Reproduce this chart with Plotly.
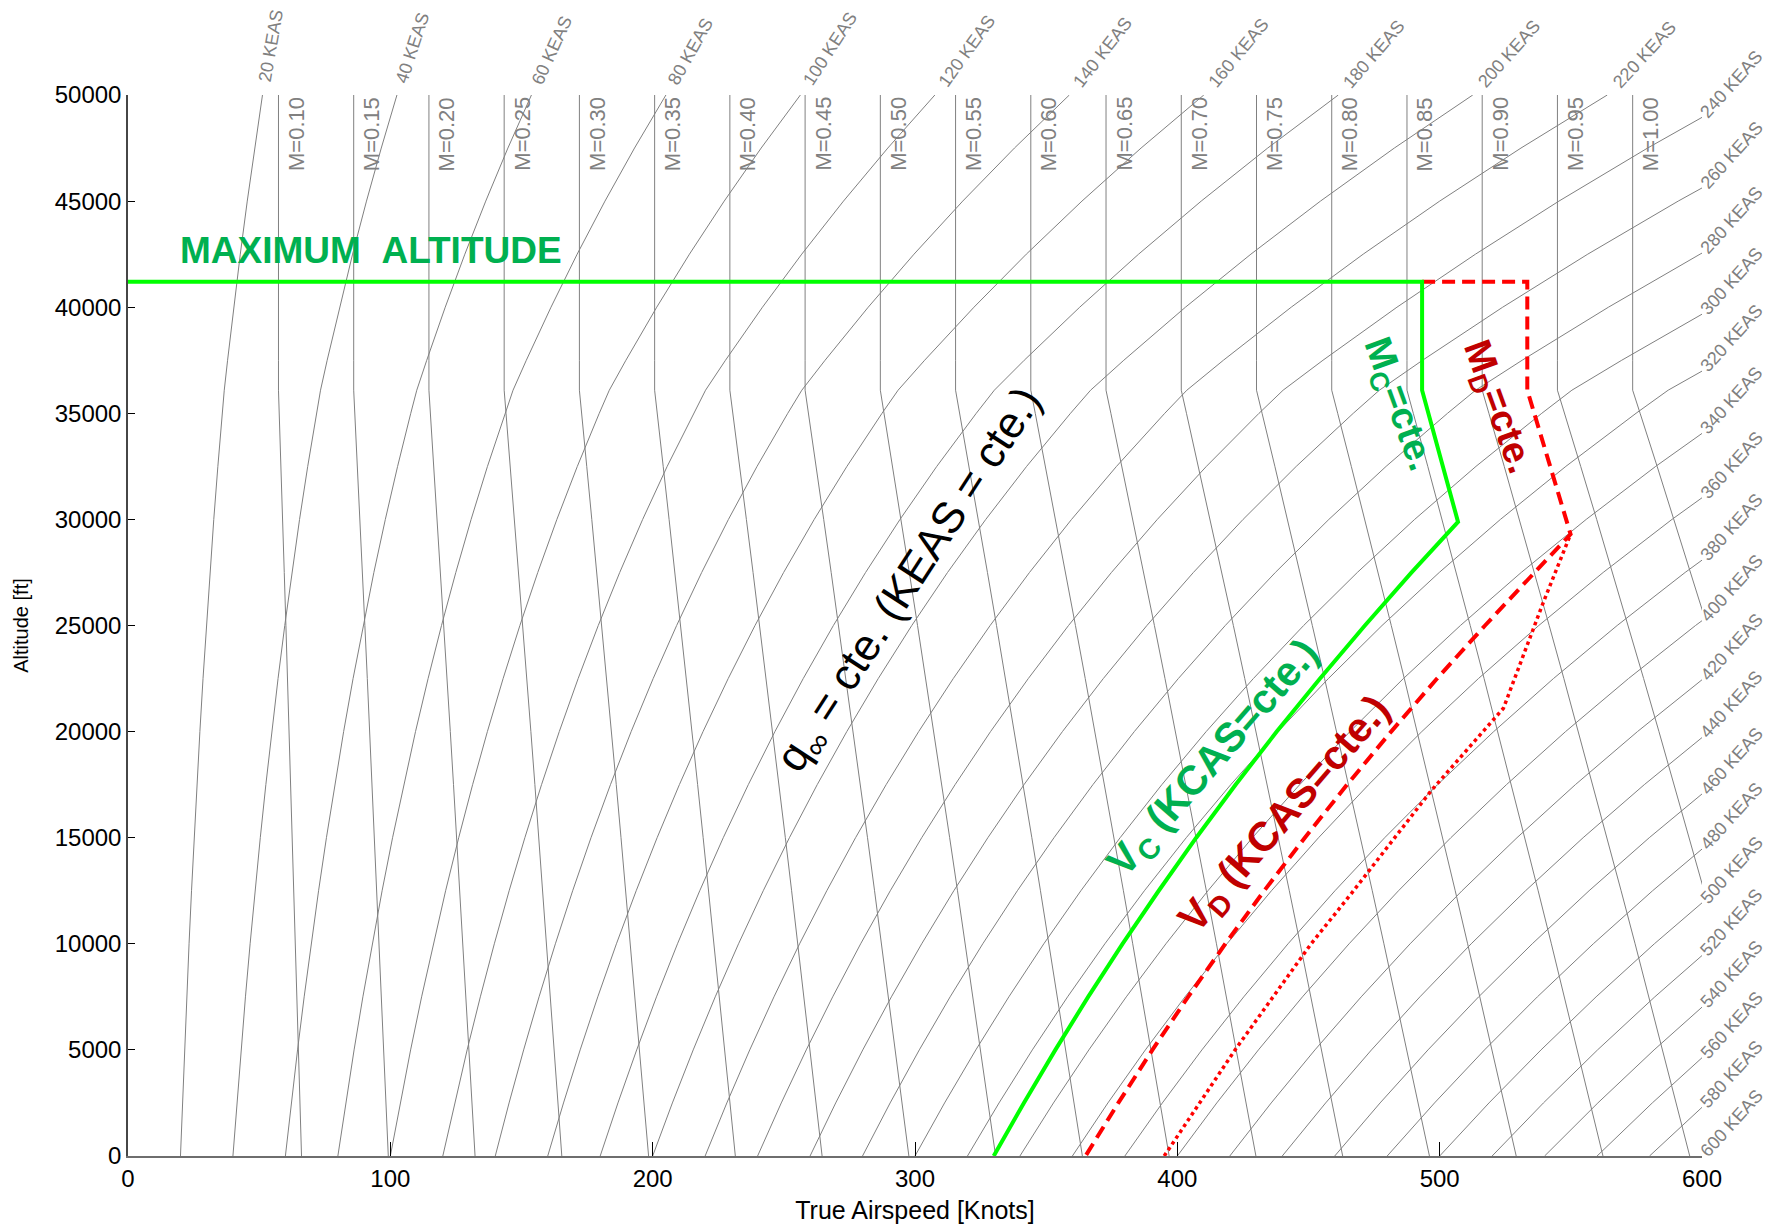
import numpy as np
import plotly.graph_objects as go

# ---------------- data ----------------
# ISA standard atmosphere table (altitude ft, density ratio, speed of sound kt)
ALT_FT = [0, 2500, 5000, 7500, 10000, 12500, 15000, 17500, 20000, 22500, 25000,
          27500, 30000, 32500, 35000, 36089, 37500, 40000, 42500, 45000, 47500, 50000]
SIGMA = [1.0, 0.92886, 0.86167, 0.79826, 0.73848, 0.68216, 0.62922, 0.57948, 0.53281,
         0.48906, 0.44812, 0.40984, 0.37413, 0.34085, 0.30988, 0.29708, 0.27760,
         0.24617, 0.21831, 0.19359, 0.17166, 0.15222]
SOUND_KT = [661.47, 655.76, 650.00, 644.19, 638.33, 632.41, 626.43, 620.40, 614.31,
            608.16, 601.94, 595.66, 589.32, 582.90, 576.41, 573.57, 573.57, 573.57,
            573.57, 573.57, 573.57, 573.57]

MACH = [0.10, 0.15, 0.20, 0.25, 0.30, 0.35, 0.40, 0.45, 0.50, 0.55, 0.60, 0.65,
        0.70, 0.75, 0.80, 0.85, 0.90, 0.95, 1.00]
KEAS = [20, 40, 60, 80, 100, 120, 140, 160, 180, 200, 220, 240, 260, 280, 300,
        320, 340, 360, 380, 400, 420, 440, 460, 480, 500, 520, 540, 560, 580, 600]

MAX_ALT = 41200
# V_C (330 KCAS) / M_C = 0.86 boundary, with maximum-altitude line
VC_TAS = [0, 493.3, 493.3, 495.7, 501.3, 507.0, 489.3, 471.5, 454.4, 437.9, 422.2,
          407.2, 392.9, 379.1, 366.0, 353.5, 341.5, 330.0]
VC_ALT = [MAX_ALT, MAX_ALT, 36089, 35000, 32500, 29880, 27500, 25000, 22500, 20000,
          17500, 15000, 12500, 10000, 7500, 5000, 2500, 0]
# V_D (365 KCAS) / M_D = 0.93 boundary
VD_TAS = [493.3, 533.4, 533.4, 536.1, 542.1, 549.9, 536.2, 517.3, 499.0, 481.5,
          464.7, 448.6, 433.1, 418.3, 404.1, 390.5, 377.5, 365.0]
VD_ALT = [MAX_ALT, MAX_ALT, 36089, 35000, 32500, 29300, 27500, 25000, 22500, 20000,
          17500, 15000, 12500, 10000, 7500, 5000, 2500, 0]
# dotted red line
DOT_TAS = [395.0, 422.0, 451.0, 466.4, 497.0, 511.0, 524.3, 539.6, 549.9]
DOT_ALT = [0, 5000, 10000, 12380, 17250, 19210, 21100, 26120, 29300]

X_TICKS = [0, 100, 200, 300, 400, 500, 600]
Y_TICKS = list(range(0, 50001, 5000))

# ---------------- figure ----------------
FONT = "Liberation Sans, Arial, Helvetica, sans-serif"
GRAY = "rgb(128,128,128)"
W, H = 1775, 1228
ML, MR, MT, MB = 120, 81, 87, 80

alt = np.array(ALT_FT, float)
sig = np.array(SIGMA, float)
snd = np.array(SOUND_KT, float)

fig = go.Figure()

for m in MACH:
    fig.add_trace(go.Scatter(x=m * snd, y=alt, mode="lines",
                             line=dict(color=GRAY, width=1),
                             hoverinfo="skip", showlegend=False))
for k in KEAS:
    fig.add_trace(go.Scatter(x=k / np.sqrt(sig), y=alt, mode="lines",
                             line=dict(color=GRAY, width=1),
                             hoverinfo="skip", showlegend=False))

fig.add_trace(go.Scatter(x=DOT_TAS, y=DOT_ALT, mode="lines",
                         line=dict(color="#FF0000", width=3.5, dash="dot"),
                         hoverinfo="skip", showlegend=False))
fig.add_trace(go.Scatter(x=VD_TAS, y=VD_ALT, mode="lines",
                         line=dict(color="#FF0000", width=4, dash="13px,7px"),
                         hoverinfo="skip", showlegend=False))
fig.add_trace(go.Scatter(x=VC_TAS, y=VC_ALT, mode="lines",
                         line=dict(color="#00FF00", width=4),
                         hoverinfo="skip", showlegend=False))

ann = []
# Mach labels
for m in MACH:
    ann.append(dict(x=m * snd[-1], y=50000, xref="x", yref="y",
                    text=f"M={m:.2f}", textangle=-90, showarrow=False,
                    xanchor="left", yanchor="top", xshift=3,
                    font=dict(family=FONT, size=22, color=GRAY)))

# KEAS labels
CW = {"0": .556, "1": .556, "2": .556, "3": .556, "4": .556, "5": .556, "6": .556,
      "7": .556, "8": .556, "9": .556, " ": .278, "K": .667, "E": .667, "A": .667,
      "S": .667}
KFS = 18
for k in KEAS:
    tas_top = k / np.sqrt(sig[-1])
    txt = f"{k} KEAS"
    L = sum(CW[c] for c in txt) * KFS
    if tas_top <= 600:
        x0, y0 = tas_top, 50000
        ang = 45 + 35 * np.exp(-(k - 20) / 75.0)
        gap = 13
    else:
        tas = k / np.sqrt(sig)
        x0, y0 = 600, float(np.interp(600, tas, alt))
        ang = 48
        gap = 3
    d = L / 2 + gap
    r = np.radians(ang)
    ann.append(dict(x=x0, y=y0, xref="x", yref="y", text=txt, textangle=-ang,
                    showarrow=False, xanchor="center", yanchor="middle",
                    xshift=d * np.cos(r), yshift=d * np.sin(r),
                    font=dict(family=FONT, size=KFS, color=GRAY)))

GREEN_T = "#00B050"
RED_T = "#C00000"
ann += [
    dict(x=92.7, y=42650, text="<b>MAXIMUM\u00a0\u00a0ALTITUDE</b>", textangle=0,
         font=dict(family=FONT, size=37, color=GREEN_T)),
    dict(x=298.6, y=27130, text="q<sub>\u221e</sub> = cte. (KEAS = cte.)", textangle=-57,
         font=dict(family=FONT, size=44, color="black")),
    dict(x=414.3, y=18700, text="<b>V<sub>C</sub> (KCAS=cte.)</b>", textangle=-49,
         font=dict(family=FONT, size=41, color=GREEN_T)),
    dict(x=441.5, y=16070, text="<b>V<sub>D</sub> (KCAS=cte.)</b>", textangle=-49,
         font=dict(family=FONT, size=41, color=RED_T)),
    dict(x=483.9, y=35400, text="<b>M<sub>C</sub>=cte.</b>", textangle=70,
         font=dict(family=FONT, size=38, color=GREEN_T)),
    dict(x=521.8, y=35250, text="<b>M<sub>D</sub>=cte.</b>", textangle=70,
         font=dict(family=FONT, size=38, color=RED_T)),
]
for a_ in ann[-6:]:
    a_.update(xref="x", yref="y", showarrow=False, xanchor="center", yanchor="middle")

fig.update_layout(
    width=W, height=H,
    margin=dict(l=ML, r=MR, t=MT, b=MB, pad=0),
    paper_bgcolor="white", plot_bgcolor="white",
    showlegend=False,
    font=dict(family=FONT, size=22, color="black"),
    annotations=ann,
    xaxis=dict(range=[0, 600], tickvals=X_TICKS, ticktext=[str(v) for v in X_TICKS],
               showgrid=False, zeroline=False, showline=True, linecolor="rgb(110,110,110)",
               linewidth=2, ticks="inside", ticklen=14, tickcolor="black", tickwidth=1,
               tickfont=dict(family=FONT, size=24, color="black"),
               title=dict(text="True Airspeed [Knots]", standoff=11,
                          font=dict(family=FONT, size=25, color="black")),
               automargin=False),
    yaxis=dict(range=[0, 50000], tickvals=Y_TICKS, ticktext=[str(v) for v in Y_TICKS],
               showgrid=False, zeroline=False, showline=True, linecolor="rgb(70,70,70)",
               linewidth=1.5, ticks="inside", ticklen=7, tickcolor="black", tickwidth=1,
               tickfont=dict(family=FONT, size=24, color="black"),
               title=dict(text="Altitude [ft]", standoff=21,
                          font=dict(family=FONT, size=20, color="black")),
               automargin=False),
)

fig.write_html("out.html")
